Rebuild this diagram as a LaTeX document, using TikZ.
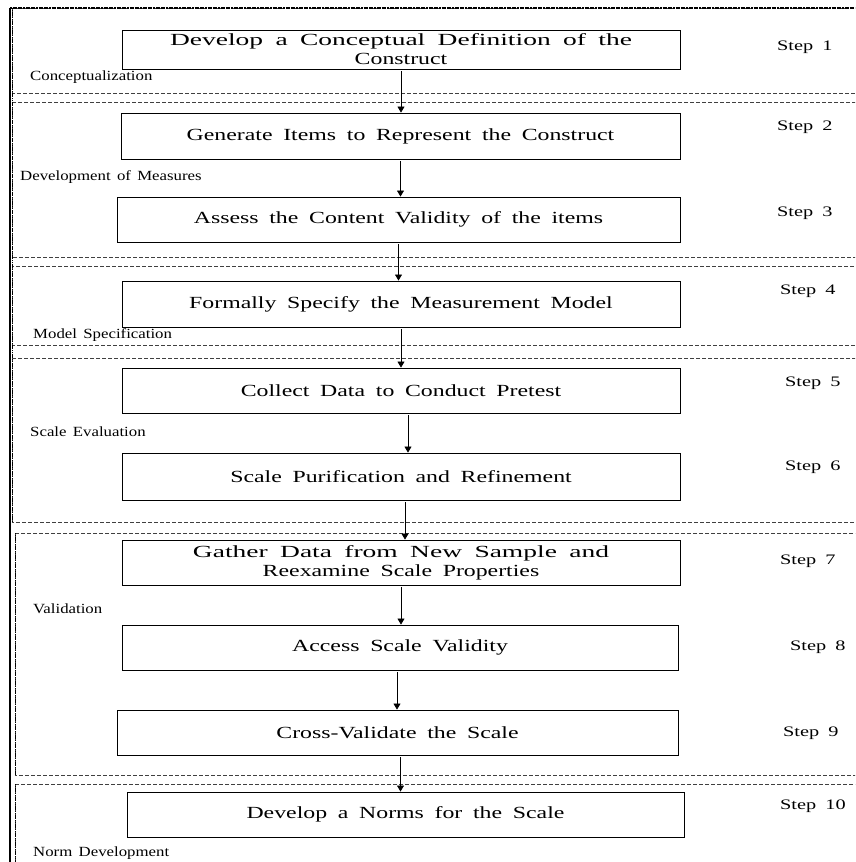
\documentclass[tikz,border=0pt]{standalone}
\usepackage{fontspec}
\usepackage{graphicx}
\setmainfont{Liberation Serif}[FakeStretch=1.4, WordSpace=1.8]
\newfontfamily\phasefont{Liberation Serif}[FakeStretch=1.2, WordSpace=1.5]
\usetikzlibrary{arrows.meta}

% first line of a two-line box, set a little wider
\newcommand{\wideline}[1]{\scalebox{1.155}[1]{#1}}

\tikzset{
  stepbox/.style={draw=black, line width=0.9pt, inner sep=0pt, align=center,
    font=\fontsize{17}{19}\selectfont},
  flow/.style={line width=0.7pt, -{Triangle[width=7pt,length=6pt]}, shorten <=2pt},
  steplabel/.style={anchor=west, inner sep=0pt, font=\fontsize{14.5}{16}\selectfont},
  phaselabel/.style={anchor=west, inner sep=0pt, font=\phasefont\fontsize{14}{16}\selectfont},
  phaseframe/.style={draw=black!75, line width=0.6pt, dash pattern=on 4pt off 2pt},
  phaseedge/.style={draw=black, line width=1.6pt, dash pattern=on 1.2pt off 0.6pt},
}

\begin{document}
\begin{tikzpicture}[x=1pt, y=-1pt]
\useasboundingbox (0,0) rectangle (855,862);
\clip (0,0) rectangle (855,862);

% phase frames (their right sides run past the page edge)
\draw[phaseframe] (12,8) rectangle (900,93);
\draw[phaseframe] (12,102) rectangle (900,257);
\draw[phaseframe] (12,266) rectangle (900,345);
\draw[phaseframe] (12,358) rectangle (900,522);
\draw[phaseframe] (15,533) rectangle (900,775);
\draw[phaseframe] (15,784) rectangle (900,900);

% heavy outer border on the left and the top
\draw[line width=1.4pt] (10,8) -- (10,862);
\draw[phaseedge] (12.5,8) -- (12.5,522);
\draw[draw=black, line width=1.2pt, dash pattern=on 1.2pt off 0.6pt] (15.5,533) -- (15.5,775);
\draw[draw=black, line width=1.2pt, dash pattern=on 1.2pt off 0.6pt] (15.5,784) -- (15.5,862);
\draw[line width=2.4pt, dash pattern=on 2pt off 0.6pt] (10,8) -- (855,8);

% process steps
\node[stepbox, minimum width=558pt, minimum height=39pt] (b1) at (401,49.5)
  {\wideline{Develop a Conceptual Definition of the}\\Construct};
\node[stepbox, minimum width=559pt, minimum height=46pt] (b2) at (400.5,136)
  {Generate Items to Represent the Construct};
\node[stepbox, minimum width=563pt, minimum height=45pt] (b3) at (398.5,219.5)
  {Assess the Content Validity of the items};
\node[stepbox, minimum width=558pt, minimum height=46pt] (b4) at (401,304)
  {Formally Specify the Measurement Model};
\node[stepbox, minimum width=558pt, minimum height=45pt] (b5) at (401,390.5)
  {Collect Data to Conduct Pretest};
\node[stepbox, minimum width=558pt, minimum height=47pt] (b6) at (401,476.5)
  {Scale Purification and Refinement};
\node[stepbox, minimum width=558pt, minimum height=45pt] (b7) at (401,562.5)
  {\wideline{Gather Data from New Sample and}\\Reexamine Scale Properties};
\node[stepbox, minimum width=556pt, minimum height=45pt] (b8) at (400,647.5)
  {Access Scale Validity};
\node[stepbox, minimum width=561pt, minimum height=45pt] (b9) at (397.5,732.5)
  {Cross-Validate the Scale};
\node[stepbox, minimum width=557pt, minimum height=45pt] (b10) at (405.5,814.5)
  {Develop a Norms for the Scale};

% step numbers
\node[steplabel] (s1) at (777,47) {Step 1};
\node[steplabel] (s2) at (777,127) {Step 2};
\node[steplabel] (s3) at (777,213) {Step 3};
\node[steplabel] (s4) at (780,291) {Step 4};
\node[steplabel] (s5) at (785,383) {Step 5};
\node[steplabel] (s6) at (785,467) {Step 6};
\node[steplabel] (s7) at (780,561) {Step 7};
\node[steplabel] (s8) at (790,647) {Step 8};
\node[steplabel] (s9) at (783,733) {Step 9};
\node[steplabel] (s10) at (780,806) {Step 10};

% phase names
\node[phaselabel] (p1) at (30,77) {Conceptualization};
\node[phaselabel] (p2) at (20,177) {Development of Measures};
\node[phaselabel] (p3) at (33,335) {Model Specification};
\node[phaselabel] (p4) at (30,432) {Scale Evaluation};
\node[phaselabel] (p5) at (33,609) {Validation};
\node[phaselabel] (p6) at (33,853) {Norm Development};

% connectors
\draw[flow] (b1.south) -- (b1.south |- b2.north);
\draw[flow] (b2.south) -- (b2.south |- b3.north);
\draw[flow] (b3.south) -- (b3.south |- b4.north);
\draw[flow] (b4.south) -- (b4.south |- b5.north);
\draw[flow] ([xshift=7pt]b5.south) -- ([xshift=7pt]b5.south |- b6.north);
\draw[flow] ([xshift=4pt]b6.south) -- ([xshift=4pt]b6.south |- b7.north);
\draw[flow] (b7.south) -- (b7.south |- b8.north);
\draw[flow] ([xshift=-3pt]b8.south) -- ([xshift=-3pt]b8.south |- b9.north);
\draw[flow] ([xshift=3pt]b9.south) -- ([xshift=3pt]b9.south |- b10.north);
\end{tikzpicture}
\end{document}
